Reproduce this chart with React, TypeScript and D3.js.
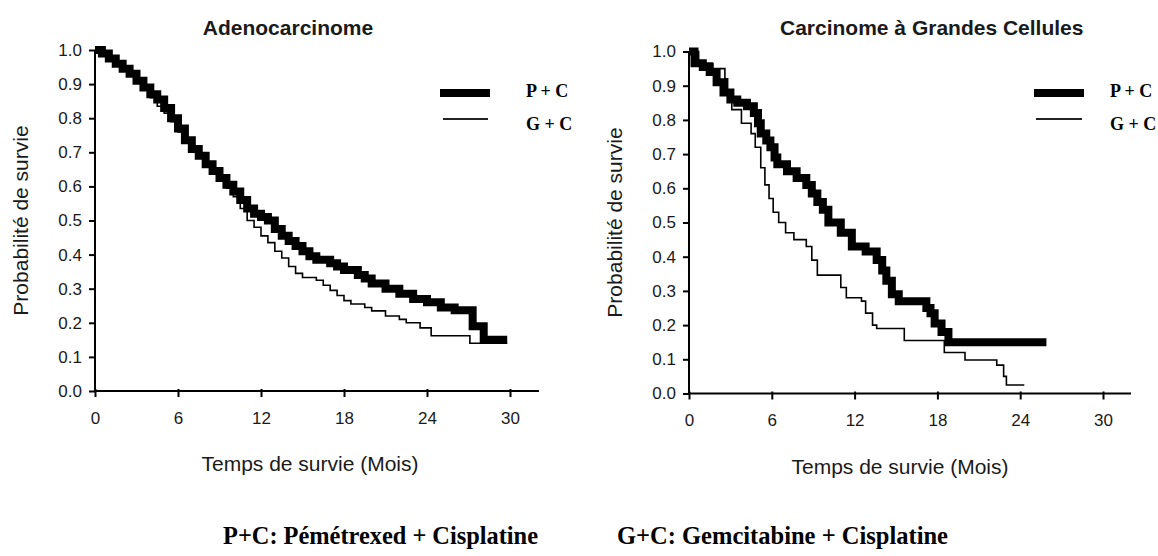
import React, { useEffect, useRef } from "react";
import * as d3 from "d3";

const xTickValues = [0, 6, 12, 18, 24, 30];
const yTickValues = [0, 0.1, 0.2, 0.3, 0.4, 0.5, 0.6, 0.7, 0.8, 0.9, 1.0];

const titles = ["Adenocarcinome", "Carcinome à Grandes Cellules"];
const xAxisTitle = "Temps de survie (Mois)";
const yAxisTitle = "Probabilité de survie";
const seriesNames = ["P + C", "G + C"];
const footnotes = ["P+C: Pémétrexed + Cisplatine", "G+C: Gemcitabine + Cisplatine"];

// Adenocarcinome, P + C (thick)
const adenoPCTime = [0, 0.5, 1, 1.5, 2, 2.5, 3, 3.5, 4, 4.5, 5, 5.5, 6, 6.5, 7, 7.5, 8, 8.5, 9, 9.5, 10, 10.5, 11, 11.5, 12, 12.5, 13, 13.5, 14, 14.5, 15, 15.5, 16, 17, 17.5, 18, 19, 19.5, 20, 21, 22, 23, 24, 25, 26, 27.3, 28.1, 29.8];
const adenoPCSurv = [1, 0.99, 0.975, 0.96, 0.945, 0.93, 0.91, 0.89, 0.87, 0.855, 0.83, 0.8, 0.77, 0.735, 0.71, 0.69, 0.665, 0.645, 0.625, 0.605, 0.585, 0.56, 0.535, 0.52, 0.51, 0.5, 0.475, 0.455, 0.44, 0.425, 0.41, 0.395, 0.385, 0.375, 0.365, 0.355, 0.34, 0.33, 0.315, 0.3, 0.285, 0.27, 0.26, 0.245, 0.237, 0.19, 0.15, 0.15];

// Adenocarcinome, G + C (thin)
const adenoGCTime = [0, 0.5, 1, 1.5, 2, 2.5, 3, 3.5, 4, 4.5, 5, 5.5, 6, 6.5, 7, 7.5, 8, 8.5, 9, 9.5, 10, 10.5, 11, 11.5, 12, 12.5, 13, 13.5, 14, 14.5, 15, 16, 16.5, 17, 17.5, 18, 18.5, 19.5, 20, 21, 22, 22.5, 23.5, 24.3, 27.1, 29.8];
const adenoGCSurv = [1, 0.99, 0.975, 0.96, 0.945, 0.925, 0.905, 0.885, 0.86, 0.835, 0.815, 0.79, 0.76, 0.73, 0.705, 0.685, 0.66, 0.64, 0.62, 0.595, 0.57, 0.535, 0.5, 0.48, 0.455, 0.435, 0.41, 0.39, 0.365, 0.345, 0.333, 0.325, 0.31, 0.295, 0.28, 0.265, 0.255, 0.245, 0.235, 0.22, 0.21, 0.2, 0.185, 0.162, 0.14, 0.14];

// Carcinome à Grandes Cellules, P + C (thick)
const largePCTime = [0, 0.4, 1, 1.5, 2, 2.5, 3, 3.5, 4.2, 4.7, 5, 5.2, 5.6, 5.9, 6.2, 6.4, 7.1, 7.8, 8.5, 8.9, 9.3, 9.7, 10.1, 11, 11.8, 12.8, 13.6, 14, 14.3, 14.7, 15.2, 17.2, 17.5, 17.8, 18.3, 18.8, 25.9];
const largePCSurv = [1, 0.966, 0.955, 0.94, 0.91, 0.88, 0.86, 0.85, 0.84, 0.82, 0.79, 0.76, 0.74, 0.72, 0.69, 0.67, 0.65, 0.63, 0.61, 0.585, 0.56, 0.537, 0.5, 0.47, 0.43, 0.415, 0.39, 0.36, 0.33, 0.29, 0.27, 0.25, 0.235, 0.205, 0.18, 0.15, 0.15];

// Carcinome à Grandes Cellules, G + C (thin)
const largeGCTime = [0, 0.7, 1.7, 2.6, 2.8, 3.1, 3.8, 4.5, 4.8, 5.2, 5.5, 5.8, 6.1, 6.5, 7.0, 7.6, 8.5, 8.9, 9.3, 11.0, 11.4, 12.5, 12.8, 13.3, 13.6, 15.6, 18.5, 20.0, 22.3, 22.8, 23.0, 24.3];
const largeGCSurv = [1, 0.966, 0.95, 0.92, 0.88, 0.83, 0.79, 0.76, 0.72, 0.66, 0.61, 0.57, 0.53, 0.5, 0.47, 0.45, 0.43, 0.39, 0.346, 0.31, 0.28, 0.27, 0.235, 0.2, 0.19, 0.155, 0.12, 0.098, 0.083, 0.05, 0.025, 0.025];

const SANS = "'Liberation Sans', Arial, sans-serif";
const SERIF = "'Liberation Serif', 'Times New Roman', serif";
const INK = "#1a1a1a";

type Panel = {
  title: string;
  titleX: number;
  titleAnchor: string;
  xLeft: number;
  xRight: number;
  axisEnd: number;
  yTop: number;
  yBottom: number;
  yLabelX: number;
  xTitleX: number;
  xTitleY: number;
  tickLabelY: number;
  legendThick: [number, number];
  legendThin: [number, number];
  legendTextX: number;
  pc: [number[], number[]];
  gc: [number[], number[]];
};

const panels: Panel[] = [
  {
    title: titles[0], titleX: 288, titleAnchor: "middle",
    xLeft: 95, xRight: 510, axisEnd: 539, yTop: 50, yBottom: 391,
    yLabelX: 28, xTitleX: 310, xTitleY: 471, tickLabelY: 424,
    legendThick: [440, 490], legendThin: [443, 488], legendTextX: 526,
    pc: [adenoPCTime, adenoPCSurv], gc: [adenoGCTime, adenoGCSurv],
  },
  {
    title: titles[1], titleX: 780, titleAnchor: "start",
    xLeft: 689, xRight: 1103, axisEnd: 1131, yTop: 51.5, yBottom: 393.5,
    yLabelX: 622, xTitleX: 900, xTitleY: 474, tickLabelY: 426,
    legendThick: [1034, 1084], legendThin: [1036, 1082], legendTextX: 1110,
    pc: [largePCTime, largePCSurv], gc: [largeGCTime, largeGCSurv],
  },
];

const footnoteBoxes = [
  { x: 223, width: 315 },
  { x: 617, width: 331 },
];

export default function App() {
  const ref = useRef<SVGSVGElement | null>(null);

  useEffect(() => {
    document.body.style.margin = "0";
    const svg = d3.select(ref.current);
    svg.selectAll("*").remove();
    svg.append("rect").attr("width", 1158).attr("height", 556).attr("fill", "#fff");

    panels.forEach((p) => {
      const x = d3.scaleLinear().domain([0, 30]).range([p.xLeft, p.xRight]);
      const y = d3.scaleLinear().domain([0, 1]).range([p.yBottom, p.yTop]);
      const g = svg.append("g");

      // title
      g.append("text")
        .attr("x", p.titleX).attr("y", 35)
        .attr("text-anchor", p.titleAnchor)
        .attr("font-family", SANS).attr("font-size", 21).attr("font-weight", "bold")
        .attr("fill", INK).text(p.title);

      // y axis
      const yAxis = d3.axisLeft(y).tickValues(yTickValues).tickSize(6).tickPadding(7)
        .tickFormat(d3.format(".1f") as any);
      const yg = g.append("g").attr("transform", `translate(${p.xLeft},0)`).call(yAxis);
      yg.select(".domain").attr("stroke", "#000").attr("stroke-width", 2)
        .attr("d", `M0,${p.yTop}V${p.yBottom}`);
      yg.selectAll(".tick line").attr("stroke", "#000").attr("stroke-width", 2);
      yg.selectAll(".tick text").attr("font-family", SANS).attr("font-size", 17).attr("fill", INK);

      // x axis
      const xAxis = d3.axisBottom(x).tickValues(xTickValues).tickSize(6).tickFormat(d3.format("d") as any);
      const xg = g.append("g").attr("transform", `translate(0,${p.yBottom})`).call(xAxis);
      xg.select(".domain").attr("stroke", "#000").attr("stroke-width", 2)
        .attr("d", `M${p.xLeft - 1},0H${p.axisEnd}`);
      xg.selectAll(".tick line").attr("stroke", "#000").attr("stroke-width", 2).attr("y1", -2);
      xg.selectAll(".tick text").attr("font-family", SANS).attr("font-size", 17).attr("fill", INK)
        .attr("y", null).attr("dy", null)
        .attr("transform", `translate(0,${p.tickLabelY - p.yBottom})`);

      // axis titles
      g.append("text")
        .attr("x", p.xTitleX).attr("y", p.xTitleY).attr("text-anchor", "middle")
        .attr("font-family", SANS).attr("font-size", 21).attr("fill", INK).text(xAxisTitle);
      g.append("text")
        .attr("transform", `translate(${p.yLabelX},${(p.yTop + p.yBottom) / 2}) rotate(-90)`)
        .attr("text-anchor", "middle")
        .attr("font-family", SANS).attr("font-size", 21).attr("fill", INK).text(yAxisTitle);

      // curves
      const line = d3.line<[number, number]>()
        .x((d) => x(d[0])).y((d) => y(d[1]))
        .curve(d3.curveStepAfter);
      const toPts = (s: [number[], number[]]) => s[0].map((t, i) => [t, s[1][i]] as [number, number]);

      g.append("path").attr("d", line(toPts(p.pc)) as string)
        .attr("fill", "none").attr("stroke", "#000").attr("stroke-width", 8)
        .attr("stroke-linejoin", "miter").attr("stroke-linecap", "butt");
      g.append("path").attr("d", line(toPts(p.gc)) as string)
        .attr("fill", "none").attr("stroke", "#000").attr("stroke-width", 1.6);

      // legend
      g.append("line").attr("x1", p.legendThick[0]).attr("x2", p.legendThick[1])
        .attr("y1", 93).attr("y2", 93).attr("stroke", "#000").attr("stroke-width", 8);
      g.append("line").attr("x1", p.legendThin[0]).attr("x2", p.legendThin[1])
        .attr("y1", 119).attr("y2", 119).attr("stroke", "#222").attr("stroke-width", 2);
      g.append("text").attr("x", p.legendTextX).attr("y", 97)
        .attr("font-family", SERIF).attr("font-weight", "bold").attr("font-size", 18)
        .attr("fill", "#000").text(seriesNames[0]);
      g.append("text").attr("x", p.legendTextX).attr("y", 130)
        .attr("font-family", SERIF).attr("font-weight", "bold").attr("font-size", 18)
        .attr("fill", "#000").text(seriesNames[1]);
    });

    // footnotes (condensed bold serif)
    footnotes.forEach((f, i) => {
      svg.append("text")
        .attr("x", footnoteBoxes[i].x).attr("y", 544)
        .attr("textLength", footnoteBoxes[i].width)
        .attr("lengthAdjust", "spacingAndGlyphs")
        .attr("font-family", SERIF).attr("font-weight", "bold").attr("font-size", 26)
        .attr("fill", "#000").text(f);
    });
  }, []);

  return (
    <svg
      ref={ref}
      width={1158}
      height={556}
      style={{ display: "block", position: "absolute", left: 0, top: 0 }}
    />
  );
}
